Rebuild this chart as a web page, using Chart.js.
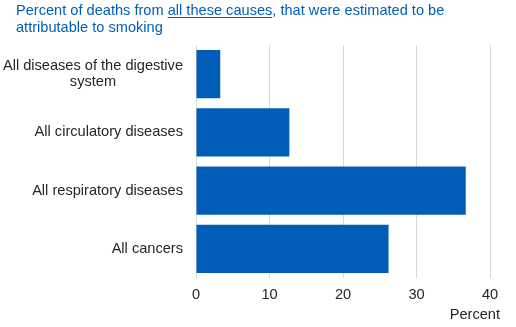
<!DOCTYPE html>
<html lang="en">
<head>
    <meta charset="UTF-8">
    <title>Deaths attributable to smoking</title>
    <script src="https://cdn.jsdelivr.net/npm/chart.js"></script>
    <style>
        html, body { margin: 0; padding: 0; background: #fff; }
        #wrap { width: 516px; height: 327px; }
    </style>
</head>
<body>
    <div id="wrap"><canvas id="myChart" width="516" height="327"></canvas></div>

    <script>
        const categories = [
            ['All diseases of the digestive', 'system'],
            ['All circulatory diseases'],
            ['All respiratory diseases'],
            ['All cancers']
        ];
        const percentValues = [3.3, 12.7, 36.7, 26.2];
        const xTicks = [0, 10, 20, 30, 40];

        const FONT = '"Liberation Sans", Arial, sans-serif';
        const FSIZE = 14.6;
        const BLUE = '#005eb8';
        const TEXT = '#262626';

        // title with the underlined part, category labels and axis title
        const textPlugin = {
            id: 'textPlugin',
            afterDraw(chart) {
                const ctx = chart.ctx;
                ctx.save();
                ctx.font = FSIZE + 'px ' + FONT;
                ctx.fillStyle = BLUE;
                ctx.strokeStyle = BLUE;
                ctx.textBaseline = 'middle';
                ctx.textAlign = 'left';
                let x = 16;
                const y1 = 11, y2 = 28;
                const a = 'Percent of deaths from ';
                const b = 'all these causes';
                const c = ', that were estimated to be';
                ctx.fillText(a, x, y1);
                x += ctx.measureText(a).width;
                ctx.fillText(b, x, y1);
                const bw = ctx.measureText(b).width;
                ctx.lineWidth = 1;
                ctx.beginPath();
                ctx.moveTo(x, y1 + 6.5);
                ctx.lineTo(x + bw, y1 + 6.5);
                ctx.stroke();
                x += bw;
                ctx.fillText(c, x, y1);
                ctx.fillText('attributable to smoking', 16, y2);

                // category labels: right aligned, extra lines centred under the first
                const yScale = chart.scales.y;
                const right = 183;
                ctx.fillStyle = TEXT;
                categories.forEach((lines, i) => {
                    const cy = yScale.getPixelForValue(i);
                    const lh = 16.5;
                    const top = cy - (lines.length - 1) * lh / 2;
                    const w0 = ctx.measureText(lines[0]).width;
                    lines.forEach((ln, j) => {
                        if (j === 0) {
                            ctx.textAlign = 'right';
                            ctx.fillText(ln, right, top);
                        } else {
                            ctx.textAlign = 'center';
                            ctx.fillText(ln, right - w0 / 2, top + j * lh);
                        }
                    });
                });

                ctx.textAlign = 'right';
                ctx.fillText('Percent', 500, 315);
                ctx.restore();
            }
        };

        new Chart(document.getElementById('myChart'), {
            type: 'bar',
            data: {
                labels: categories,
                datasets: [{
                    data: percentValues,
                    backgroundColor: BLUE,
                    borderWidth: 0,
                    barPercentage: 0.83,
                    categoryPercentage: 1
                }]
            },
            options: {
                indexAxis: 'y',
                responsive: false,
                animation: false,
                layout: { padding: { top: 45, right: 26, left: 0, bottom: 0 } },
                plugins: {
                    legend: { display: false },
                    tooltip: { enabled: false }
                },
                scales: {
                    x: {
                        min: 0,
                        max: 40,
                        afterBuildTicks: (s) => { s.ticks = xTicks.map(v => ({ value: v })); },
                        afterFit: (s) => { s.height = 49; },
                        grid: { color: '#d9d9d9', drawTicks: false },
                        border: { display: false },
                        ticks: { color: TEXT, font: { family: FONT, size: FSIZE }, padding: 8 }
                    },
                    y: {
                        grid: { display: false },
                        border: { display: false },
                        ticks: { display: false },
                        afterFit: (s) => { s.width = 196; }
                    }
                }
            },
            plugins: [textPlugin]
        });
    </script>
</body>
</html>
